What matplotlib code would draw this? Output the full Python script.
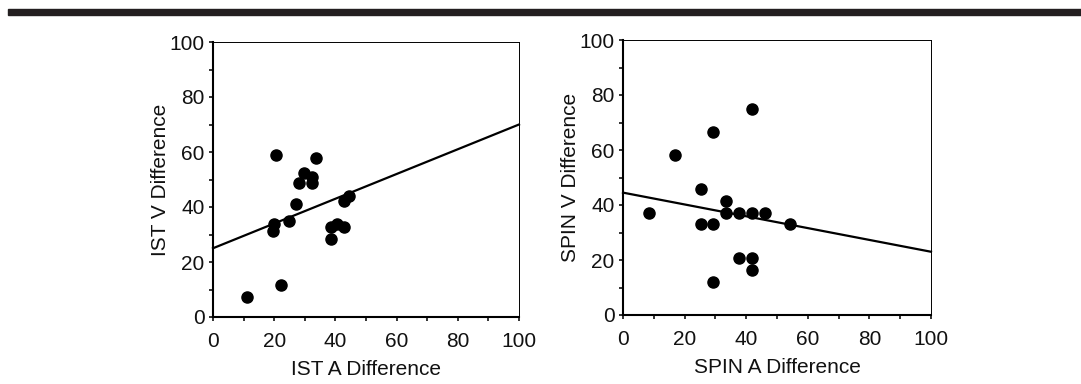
import matplotlib
matplotlib.use('Agg')
import matplotlib.pyplot as plt
from matplotlib.ticker import MultipleLocator
import numpy as np

plt.rcParams['font.family'] = ['Liberation Sans', 'DejaVu Sans']

# IST panel
ist_a = [11.2, 20.7, 22.1, 20.0, 19.6, 24.8, 27.0, 28.0, 29.8, 32.5, 32.5,
         33.8, 38.5, 38.5, 40.6, 42.7, 42.7, 44.4]
ist_v = [7.3, 58.8, 11.5, 33.9, 31.2, 34.8, 41.2, 48.7, 52.4, 50.9, 48.7,
         57.8, 32.7, 28.2, 33.7, 32.7, 42.2, 43.9]
ist_fit = [25.0, 70.0]   # line value at x=0 and x=100

# SPIN panel
spin_a = [8.4, 16.8, 25.2, 25.2, 29.3, 29.3, 29.3, 33.6, 33.6, 37.6, 37.6,
          41.8, 41.8, 41.8, 41.8, 46.1, 54.2]
spin_v = [37.2, 58.2, 45.7, 33.0, 66.4, 33.0, 12.1, 41.6, 37.2, 37.2, 20.6,
          74.9, 37.2, 20.6, 16.4, 37.2, 33.0]
spin_fit = [44.5, 23.0]

fit_x = [0, 100]
ticks = [0, 20, 40, 60, 80, 100]

fig = plt.figure(figsize=(10.81, 3.84), dpi=100)

# black rule across the top
fig.patches.append(plt.Rectangle((8 / 1081, 1 - 15 / 384), 1 - 8 / 1081, 6 / 384,
                                 transform=fig.transFigure, color='#231f20', zorder=0))

ax1 = fig.add_axes([213 / 1081, 1 - 317 / 384, 306 / 1081, 275 / 384])
ax2 = fig.add_axes([623 / 1081, 1 - 315 / 384, 308 / 1081, 275 / 384])

panels = [
    (ax1, ist_a, ist_v, ist_fit, 'IST A Difference', 'IST V Difference'),
    (ax2, spin_a, spin_v, spin_fit, 'SPIN A Difference', 'SPIN V Difference'),
]

for ax, xa, yv, fit, xl, yl in panels:
    ax.plot(fit_x, fit, color='black', lw=1.6, zorder=2, clip_on=False)
    ax.plot(xa, yv, 'o', color='black', ms=8, zorder=3, clip_on=False)
    ax.set_xlim(0, 100)
    ax.set_ylim(0, 100)
    ax.set_xticks(ticks)
    ax.set_yticks(ticks)
    ax.xaxis.set_minor_locator(MultipleLocator(10))
    ax.yaxis.set_minor_locator(MultipleLocator(10))
    ax.tick_params(which='both', direction='out', length=3, width=1.2,
                   labelsize=15, colors='#111111')
    ax.tick_params(axis='x', pad=7.5)
    ax.tick_params(axis='y', pad=3)
    ax.set_xlabel(xl, fontsize=15, labelpad=7, color='#111111')
    ax.set_ylabel(yl, fontsize=15, labelpad=0, color='#111111')
    for s in ['left', 'bottom']:
        ax.spines[s].set_linewidth(1.5)
    for s in ['top', 'right']:
        ax.spines[s].set_linewidth(0.7)

fig.savefig('out.png', dpi=100)
